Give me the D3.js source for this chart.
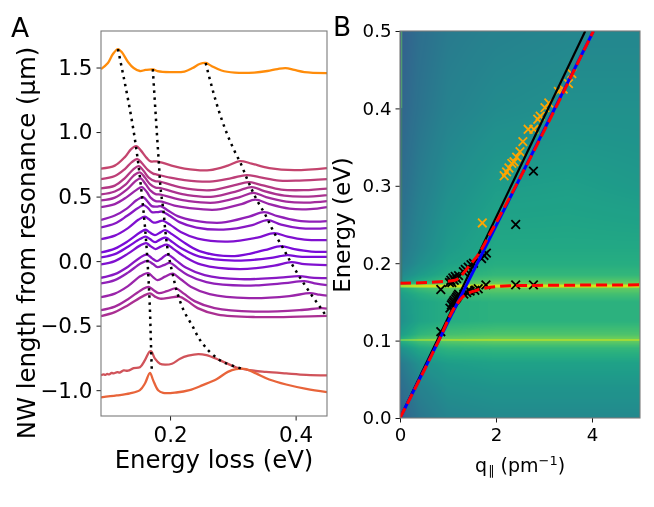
<!DOCTYPE html>
<html><head><meta charset="utf-8">
<script src="https://cdn.jsdelivr.net/npm/d3@7/dist/d3.min.js"></script>
<style>html,body{margin:0;padding:0;background:#fff}svg{display:block}text{font-family:"DejaVu Sans",sans-serif;fill:#000}</style>
</head><body><div id="c" style="position:relative;width:654px;height:507px"></div>
<script>
const spectrumColors=["#ff8c0a","#c4456e","#bd3f78","#b33884","#ab3290","#a32b9c","#9a25aa","#9020b8","#8818c4","#8010d0","#7a0cd8","#7a0cd8","#8010d0","#8818c4","#9020b8","#9a25aa","#a42b9c","#aa2f92","#d0535a","#e8643a"];
const spectra=[
[[.09,1.488],[.101,1.535],[.109,1.605],[.117,1.643],[.123,1.62],[.133,1.543],[.142,1.496],[.152,1.473],[.161,1.481],[.173,1.485],[.18,1.473],[.2,1.465],[.223,1.469],[.236,1.496],[.247,1.527],[.257,1.535],[.266,1.512],[.282,1.477],[.303,1.461],[.334,1.461],[.355,1.473],[.371,1.488],[.384,1.496],[.398,1.481],[.414,1.465],[.45,1.457]],
[[.09,.717],[.112,.74],[.128,.806],[.138,.868],[.146,.891],[.153,.86],[.163,.798],[.169,.773],[.179,.773],[.2,.744],[.223,.717],[.263,.705],[.292,.74],[.311,.775],[.33,.756],[.358,.721],[.398,.705],[.45,.721]],
[[.09,.636],[.112,.659],[.128,.713],[.139,.767],[.148,.791],[.155,.76],[.165,.705],[.173,.678],[.179,.671],[.2,.647],[.223,.628],[.263,.616],[.298,.643],[.322,.667],[.342,.651],[.374,.624],[.406,.624],[.45,.636]],
[[.09,.564],[.112,.585],[.128,.643],[.141,.709],[.15,.736],[.158,.698],[.166,.647],[.176,.62],[.184,.616],[.203,.589],[.227,.562],[.266,.55],[.303,.589],[.325,.612],[.346,.589],[.377,.554],[.414,.55],[.45,.562]],
[[.09,.517],[.112,.539],[.13,.597],[.142,.663],[.152,.688],[.16,.647],[.168,.597],[.177,.57],[.185,.566],[.204,.539],[.228,.512],[.269,.5],[.307,.543],[.33,.574],[.35,.543],[.382,.508],[.414,.5],[.45,.512]],
[[.09,.47],[.112,.492],[.131,.554],[.144,.616],[.153,.641],[.161,.597],[.169,.546],[.177,.519],[.185,.516],[.206,.488],[.23,.465],[.271,.453],[.311,.496],[.333,.529],[.353,.496],[.385,.461],[.417,.453],[.45,.465]],
[[.09,.419],[.112,.442],[.131,.496],[.146,.55],[.155,.574],[.163,.535],[.169,.492],[.177,.465],[.187,.461],[.207,.43],[.231,.411],[.274,.399],[.314,.442],[.336,.477],[.358,.442],[.39,.407],[.423,.403],[.45,.419]],
[[.09,.32],[.112,.353],[.131,.407],[.147,.473],[.157,.496],[.163,.469],[.171,.426],[.179,.422],[.185,.426],[.196,.395],[.212,.349],[.239,.314],[.282,.298],[.326,.345],[.35,.38],[.371,.349],[.403,.314],[.43,.306],[.45,.31]],
[[.09,.261],[.112,.291],[.131,.349],[.149,.411],[.158,.434],[.165,.411],[.171,.38],[.18,.38],[.187,.384],[.2,.349],[.215,.302],[.242,.26],[.285,.244],[.331,.279],[.355,.318],[.377,.283],[.406,.256],[.439,.252],[.45,.256]],
[[.09,.171],[.112,.198],[.133,.256],[.15,.322],[.16,.345],[.166,.326],[.174,.298],[.182,.306],[.188,.314],[.201,.279],[.217,.225],[.244,.174],[.292,.151],[.339,.182],[.366,.217],[.387,.19],[.414,.167],[.45,.163]],
[[.09,.067],[.112,.097],[.133,.155],[.152,.221],[.161,.243],[.168,.221],[.176,.202],[.184,.221],[.192,.24],[.203,.209],[.219,.155],[.247,.078],[.303,.039],[.35,.085],[.377,.116],[.398,.093],[.425,.074],[.45,.072]],
[[.09,.029],[.112,.054],[.133,.112],[.152,.171],[.161,.19],[.168,.171],[.176,.147],[.184,.167],[.193,.182],[.204,.147],[.22,.093],[.247,.035],[.303,.004],[.358,.023],[.387,.047],[.406,.035],[.45,.033]],
[[.09,-.026],[.112,0],[.133,.058],[.152,.12],[.162,.14],[.169,.116],[.177,.093],[.185,.112],[.195,.128],[.207,.089],[.223,.035],[.25,-.027],[.311,-.062],[.366,-.035],[.393,-.008],[.414,-.023],[.45,-.031]],
[[.09,-.129],[.112,-.101],[.133,-.043],[.152,.027],[.163,.05],[.171,.023],[.179,0],[.187,.023],[.196,.05],[.209,.008],[.225,-.05],[.255,-.108],[.311,-.14],[.374,-.128],[.406,-.116],[.425,-.128],[.45,-.132]],
[[.09,-.173],[.112,-.147],[.133,-.089],[.153,-.019],[.164,.002],[.173,-.023],[.18,-.047],[.19,-.031],[.2,-.014],[.212,-.054],[.228,-.108],[.258,-.163],[.319,-.19],[.382,-.171],[.414,-.155],[.433,-.174],[.45,-.186]],
[[.09,-.279],[.112,-.252],[.133,-.194],[.153,-.116],[.165,-.093],[.173,-.124],[.18,-.147],[.192,-.12],[.204,-.097],[.217,-.14],[.233,-.198],[.263,-.256],[.326,-.287],[.39,-.271],[.423,-.248],[.438,-.26],[.45,-.267]],
[[.09,-.38],[.112,-.353],[.133,-.295],[.155,-.221],[.166,-.199],[.174,-.225],[.182,-.248],[.195,-.233],[.209,-.212],[.222,-.252],[.239,-.31],[.271,-.364],[.334,-.391],[.406,-.38],[.442,-.364],[.45,-.368]],
[[.09,-.426],[.112,-.395],[.133,-.341],[.157,-.271],[.168,-.25],[.176,-.275],[.184,-.291],[.2,-.283],[.215,-.275],[.228,-.31],[.244,-.364],[.276,-.415],[.342,-.434],[.406,-.43],[.45,-.424]],
[[.09,-.884],[.094,-.878],[.097,-.881],[.1,-.874],[.103,-.878],[.107,-.866],[.11,-.87],[.116,-.86],[.12,-.863],[.126,-.847],[.133,-.849],[.142,-.829],[.152,-.822],[.16,-.767],[.167,-.703],[.17,-.698],[.176,-.756],[.184,-.795],[.192,-.802],[.203,-.795],[.216,-.756],[.229,-.733],[.245,-.72],[.258,-.729],[.279,-.767],[.306,-.824],[.327,-.845],[.353,-.858],[.385,-.87],[.417,-.881],[.45,-.886]],
[[.09,-1.056],[.115,-1.041],[.136,-1.025],[.152,-1],[.16,-.948],[.168,-.866],[.173,-.922],[.181,-1],[.189,-1.021],[.21,-1.018],[.231,-1],[.252,-.961],[.274,-.915],[.292,-.858],[.305,-.837],[.321,-.837],[.337,-.87],[.358,-.917],[.385,-.956],[.417,-.99],[.45,-1.015]]
];
const dispersionLines=[
[[.117,1.643],[.1456,.891],[.1503,.721],[.1551,.512],[.1598,.279],[.163,.078],[.1657,-.14],[.1678,-.357],[.1694,-.612],[.171,-.86]],
[[.1725,1.488],[.1821,.767],[.1852,.55],[.1895,.388],[.1927,.225],[.1968,.07],[.2038,-.093],[.2122,-.256],[.2238,-.403],[.234,-.488],[.2514,-.636],[.2673,-.721],[.2852,-.783],[.3165,-.837]],
[[.2567,1.535],[.3027,.853],[.3122,.76],[.3249,.612],[.3392,.465],[.3503,.372],[.3662,.217],[.3773,.124],[.3932,-.016],[.4106,-.155],[.4233,-.248],[.4424,-.38],[.4487,-.426]]
];
const blackLine=[[0,0],[3.86,.5]];
const blueLine=[[0,0],[4.03,.5]];
const upperBranch=[[0,.174],[.83,.176],[1.146,.178],[1.32,.187],[1.46,.198],[1.63,.211],[1.875,.238],[4.03,.5]];
const lowerBranch=[[0,0],[.83,.103],[1.11,.14],[1.285,.155],[1.42,.161],[1.6,.165],[1.875,.169],[2.4,.171],[5,.172]];
const blackCrosses=[[.85,.1115],[.85,.166],[1.04,.142],[1.07,.146],[1.09,.148],[1.11,.15],[1.13,.152],[1.16,.154],[1.18,.156],[1.2,.158],[1.22,.16],[1.03,.175],[1.06,.178],[1.08,.175],[1.1,.181],[1.13,.178],[1.15,.183],[1.18,.18],[1.22,.184],[1.32,.189],[1.36,.192],[1.42,.195],[1.48,.198],[1.53,.2],[1.7,.206],[1.75,.21],[1.8,.213],[1.33,.16],[1.39,.162],[1.43,.165],[1.46,.164],[1.56,.165],[1.63,.167],[1.79,.172],[2.41,.172],[2.78,.172],[2.41,.25],[2.78,.319]];
const orangeCrosses=[[1.715,.252],[2.17,.313],[2.22,.318],[2.27,.323],[2.33,.329],[2.375,.331],[2.43,.337],[2.5,.344],[2.56,.357],[2.67,.373],[2.79,.373],[2.87,.386],[2.92,.39],[3.02,.401],[3.1,.407],[3.3,.422],[3.4,.425],[3.51,.432],[3.58,.445]];
const heatQ=[0,.4,1,2,3.5,5];
const heatE=[.5,.4,.3,.22,.2,.185,.178,.1735,.1715,.1695,.1675,.16,.15,.125,.108,.102,.1008,.0995,.09,.07,.04,0];
const heatV=[
[.30,.36,.41,.44,.46,.46],[.32,.38,.44,.48,.50,.50],[.35,.42,.49,.55,.56,.54],[.39,.46,.54,.60,.60,.60],[.41,.49,.57,.62,.62,.62],[.46,.54,.62,.66,.66,.66],[.50,.60,.68,.72,.72,.72],[.60,.68,.74,.78,.78,.78],[.86,.92,.94,.94,.94,.94],[.86,.92,.94,.94,.94,.94],[.60,.68,.74,.76,.76,.76],[.55,.62,.68,.70,.70,.70],[.52,.58,.62,.64,.64,.64],[.50,.58,.62,.64,.64,.64],[.55,.65,.70,.72,.72,.72],[.62,.72,.76,.78,.78,.78],[.90,.93,.95,.95,.95,.95],[.62,.70,.74,.76,.76,.76],[.50,.60,.65,.66,.66,.66],[.40,.50,.55,.57,.57,.57],[.35,.44,.50,.52,.52,.52],[.30,.39,.45,.47,.47,.47]];
const ticksAX=[.2,.4],ticksAY=[1.5,1,.5,0,-.5,-1],ticksBX=[0,2,4],ticksBY=[0,.1,.2,.3,.4,.5];
const W=654,H=507;
const A={l:101,r:327,t:31,b:416},B={l:400,r:640,t:31,b:418};
const root=d3.select("#c");
const canvas=root.append("canvas").attr("width",B.r-B.l).attr("height",B.b-B.t).style("position","absolute").style("left",B.l+"px").style("top",B.t+"px");
const svg=root.append("svg").attr("width",W).attr("height",H).style("position","absolute").style("left",0).style("top",0);
const xA=d3.scaleLinear([.09,.45],[A.l,A.r]),yA=d3.scaleLinear([-1.2,1.783],[A.b,A.t]);
const xB=d3.scaleLinear([0,5],[B.l,B.r]),yB=d3.scaleLinear([0,.5],[B.b,B.t]);
// heat map
const ctx=canvas.node().getContext("2d");
const rowAt=d3.scaleLinear().domain(heatE).range(heatE.map((d,i)=>i));
const colAt=d3.scaleLinear().domain(heatQ).range(heatQ.map((d,i)=>i));
for(let py=0;py<B.b-B.t;py++){const rf=rowAt(yB.invert(py+B.t+.5));const r0=Math.min(Math.floor(rf),heatE.length-2),fr=rf-r0;
 for(let px=0;px<B.r-B.l;px++){const cf=colAt(xB.invert(px+B.l+.5));const c0=Math.min(Math.floor(cf),heatQ.length-2),fc=cf-c0;
  const a=d3.interpolateNumber(heatV[r0][c0],heatV[r0][c0+1])(fc),b=d3.interpolateNumber(heatV[r0+1][c0],heatV[r0+1][c0+1])(fc);
  ctx.fillStyle=d3.interpolateViridis(a+(b-a)*fr);ctx.fillRect(px,py,1,1);}}
ctx.fillStyle="#4f9a70";ctx.fillRect(1,0,1.3,yB(.4)-B.t);ctx.fillStyle="#3c7a72";ctx.fillRect(1,yB(.4)-B.t,1.3,yB(.175)-yB(.4));
// panel A
svg.append("defs").append("clipPath").attr("id","ca").append("rect").attr("x",A.l).attr("y",A.t).attr("width",A.r-A.l).attr("height",A.b-A.t);
svg.append("defs").append("clipPath").attr("id","cb").append("rect").attr("x",B.l).attr("y",B.t).attr("width",B.r-B.l).attr("height",B.b-B.t);
const la=d3.line().x(d=>xA(d[0])).y(d=>yA(d[1]));
const gA=svg.append("g").attr("clip-path","url(#ca)");
gA.selectAll("path.s").data(spectra).join("path").attr("class","s").attr("fill","none").attr("stroke",(d,i)=>spectrumColors[i]).attr("stroke-width",2.3).attr("stroke-linejoin","round").attr("d",la.curve(d3.curveCatmullRom.alpha(.5)));
gA.selectAll("path.d").data(dispersionLines).join("path").attr("class","d").attr("fill","none").attr("stroke","#000").attr("stroke-width",2.5).attr("stroke-dasharray","2.5 4.6").attr("d",d3.line().x(d=>xA(d[0])).y(d=>yA(d[1])).curve(d3.curveMonotoneY));
// panel B
const lb=d3.line().x(d=>xB(d[0])).y(d=>yB(d[1]));
const gB=svg.append("g").attr("clip-path","url(#cb)");
const cross=(sel,data,col)=>sel.selectAll(null).data(data).join("path").attr("fill","none").attr("stroke",col).attr("stroke-width",1.8).attr("transform",d=>`translate(${xB(d[0])},${yB(d[1])})`).attr("d","M-4.3,-4.3L4.3,4.3M-4.3,4.3L4.3,-4.3");
cross(gB,orangeCrosses,"#ffa500");cross(gB,blackCrosses,"#000");
gB.append("path").datum(blackLine).attr("fill","none").attr("stroke","#000").attr("stroke-width",2.2).attr("d",lb);
gB.append("path").datum(blueLine).attr("fill","none").attr("stroke","#0000ff").attr("stroke-width",3).attr("d",lb);
[upperBranch,lowerBranch].forEach(b=>gB.append("path").datum(b).attr("fill","none").attr("stroke","#ff0000").attr("stroke-width",3).attr("stroke-dasharray","11 5").attr("d",lb.curve(d3.curveMonotoneX)));
// axes
function axes(x,y,box,tx,ty,fs,fx,fy,pad){
 const ax=svg.append("g").attr("transform",`translate(0,${box.b})`).call(d3.axisBottom(x).tickValues(tx).tickSizeOuter(0).tickSize(4.5).tickPadding(pad).tickFormat(fx));
 const ay=svg.append("g").attr("transform",`translate(${box.l},0)`).call(d3.axisLeft(y).tickValues(ty).tickSizeOuter(0).tickSize(4.5).tickPadding(4).tickFormat(fy));
 [ax,ay].forEach(g=>{g.select(".domain").remove();g.selectAll("text").attr("font-size",fs).attr("font-family","DejaVu Sans");g.selectAll("line").attr("stroke","#000").attr("stroke-width",.9);});
 svg.append("rect").attr("x",box.l).attr("y",box.t).attr("width",box.r-box.l).attr("height",box.b-box.t).attr("fill","none").attr("stroke","#7a7a7a").attr("stroke-width",1.1);
}
const minus=s=>s.replace("-","\u2212");
axes(xA,yA,A,ticksAX,ticksAY,21.5,d3.format(".1f"),d=>minus(d3.format(".1f")(d)),6);
axes(xB,yB,B,ticksBX,ticksBY,18.2,d3.format("d"),d3.format(".1f"),6);
// labels
const t=(x,y,s,fs,rot,anc)=>svg.append("text").attr("x",x).attr("y",y).attr("font-size",fs).attr("text-anchor",anc||"middle").attr("transform",rot?`rotate(-90,${x},${y})`:null).text(s);
t(11,37,"A",26.5,false,"start");t(333,36,"B",26.5,false,"start");
t(214,468,"Energy loss (eV)",24.4);
t(34.5,243,"NW length from resonance (\u00b5m)",24.4,true);
t(350,225,"Energy (eV)",23,true);
const q=svg.append("text").attr("x",520).attr("y",472).attr("font-size",19).attr("text-anchor","middle");
q.append("tspan").text("q");q.append("tspan").attr("font-size",13).attr("dy",3).attr("dx",1).text("\u2225");q.append("tspan").attr("dy",-3).text(" (pm");q.append("tspan").attr("font-size",13).attr("dy",-7).text("\u22121");q.append("tspan").attr("dy",7).text(")");
</script></body></html>
